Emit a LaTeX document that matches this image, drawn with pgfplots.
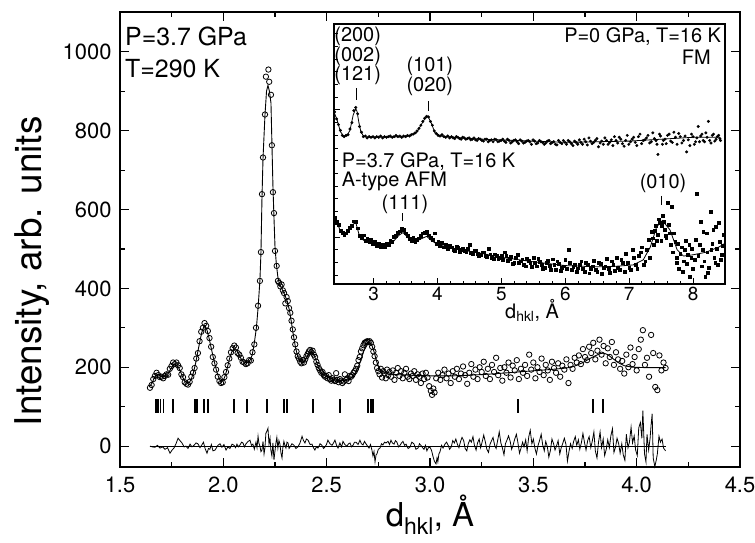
\documentclass[border=0pt]{standalone}
\usepackage{pgfplots}
\pgfplotsset{compat=1.18}
\usepackage{fontspec}
\setmainfont{TeX Gyre Heros}
\begin{document}
\begin{tikzpicture}
\useasboundingbox (0,0) rectangle (755bp,-543bp);
\begin{axis}[
  at={(120bp,-467bp)}, anchor=south west,
  scale only axis, width=620bp, height=455bp,
  xmin=1.5, xmax=4.5, ymin=-53, ymax=1101,
  xtick={1.5,2,2.5,3,3.5,4,4.5},
  ytick={0,200,400,600,800,1000},
  minor x tick num=1, minor y tick num=1,
  tick align=inside,
  major tick length=9bp, minor tick length=5bp,
  axis line style={line width=1.6bp},
  every tick/.style={black, line width=1.2bp},
  /pgf/number format/1000 sep={},
  /pgf/number format/assume math mode=true,
  ticklabel style={font=\fontsize{22}{26}\selectfont},
  xticklabel style={yshift=-6bp, /pgf/number format/fixed, /pgf/number format/fixed zerofill, /pgf/number format/precision=1},
  yticklabel style={xshift=-5bp},
  xlabel={d\textsubscript{hkl}, Å},
  ylabel={Intensity, arb. units},
  xlabel style={font=\fontsize{33}{38}\selectfont, at={(axis description cs:0.5,-0.104)}, anchor=center},
  ylabel style={font=\fontsize{37}{42}\selectfont, at={(axis description cs:-0.142,0.43)}, anchor=center},
  clip=false,
]
% observed
\addplot[only marks, mark=o, mark size=2.7bp, mark options={line width=0.8bp, black}] coordinates {
(1.645,148)(1.653,155)(1.661,170)(1.669,178)(1.677,186)(1.685,180)(1.693,175)(1.701,176)(1.709,172)(1.717,178)(1.725,182)(1.733,181)(1.741,196)(1.749,203)(1.757,212)(1.765,208)(1.773,212)(1.781,205)(1.789,198)(1.797,182)(1.805,175)(1.813,162)(1.821,158)(1.829,156)(1.837,163)(1.845,176)(1.853,186)(1.861,198)(1.869,222)(1.877,236)(1.885,266)(1.893,290)(1.901,300)(1.909,312)(1.917,305)(1.925,292)(1.933,274)(1.941,252)(1.949,226)(1.957,210)(1.965,194)(1.973,176)(1.981,165)(1.989,160)(1.997,162)(2.005,175)(2.013,188)(2.021,205)(2.029,222)(2.037,238)(2.045,248)(2.053,255)(2.061,250)(2.069,236)(2.077,232)(2.085,224)(2.093,214)(2.101,212)(2.109,208)(2.117,210)(2.125,218)(2.133,217)(2.141,238)(2.150,258)(2.158,300)(2.168,356)(2.177,419)(2.182,492)(2.187,639)(2.192,732)(2.2015,841)(2.206,937)(2.218,955)(2.222,924)(2.2305,891)(2.235,763)(2.240,644)(2.245,591)(2.250,495)(2.258,457)(2.264,419)(2.270,414)(2.276,405)(2.282,410)(2.288,395)(2.294,388)(2.300,362)(2.306,378)(2.312,368)(2.318,350)(2.324,338)(2.330,318)(2.336,296)(2.342,276)(2.348,258)(2.354,240)(2.360,228)(2.366,222)(2.372,214)(2.378,210)(2.384,218)(2.390,212)(2.396,220)(2.402,228)(2.408,234)(2.414,240)(2.420,244)(2.426,238)(2.432,242)(2.438,232)(2.444,226)(2.450,214)(2.456,206)(2.462,198)(2.468,192)(2.474,186)(2.480,188)(2.486,180)(2.492,176)(2.498,178)(2.504,172)(2.510,180)(2.516,170)(2.522,166)(2.528,172)(2.534,168)(2.540,165)(2.546,185)(2.552,168)(2.558,162)(2.564,170)(2.570,166)(2.576,160)(2.582,164)(2.588,182)(2.594,168)(2.600,172)(2.606,165)(2.612,178)(2.618,176)(2.624,180)(2.630,186)(2.636,190)(2.642,196)(2.648,204)(2.654,218)(2.660,226)(2.666,240)(2.672,248)(2.678,256)(2.684,262)(2.690,264)(2.696,266)(2.702,264)(2.708,266)(2.714,262)(2.720,252)(2.726,240)(2.732,228)(2.738,212)(2.744,198)(2.750,190)(2.756,182)(2.762,196)(2.768,174)(2.774,190)(2.780,184)(2.786,172)(2.792,194)(2.798,180)(2.804,188)(2.812,176)(2.820,192)(2.828,168)(2.836,186)(2.844,198)(2.852,178)(2.860,190)(2.868,172)(2.876,186)(2.884,196)(2.892,176)(2.900,170)(2.908,184)(2.916,178)(2.924,190)(2.932,168)(2.940,182)(2.948,176)(2.956,160)(2.964,184)(2.972,170)(2.980,186)(2.988,174)(2.996,152)(3.004,140)(3.010,130)(3.016,146)(3.022,136)(3.030,172)(3.040,186)(3.050,168)(3.060,180)(3.070,194)(3.080,172)(3.090,184)(3.100,160)(3.110,190)(3.120,176)(3.130,196)(3.140,170)(3.150,184)(3.160,202)(3.170,180)(3.180,158)(3.190,186)(3.200,208)(3.210,176)(3.220,194)(3.230,170)(3.240,200)(3.250,188)(3.260,214)(3.270,178)(3.280,196)(3.290,170)(3.300,206)(3.310,188)(3.320,224)(3.330,180)(3.340,198)(3.350,166)(3.360,200)(3.370,186)(3.380,212)(3.390,174)(3.400,204)(3.410,192)(3.420,218)(3.430,170)(3.440,196)(3.450,186)(3.460,206)(3.470,178)(3.480,232)(3.490,194)(3.500,212)(3.510,172)(3.520,200)(3.530,188)(3.540,222)(3.550,180)(3.560,206)(3.570,192)(3.580,168)(3.590,214)(3.600,198)(3.610,186)(3.620,210)(3.630,176)(3.640,204)(3.650,194)(3.660,220)(3.670,160)(3.680,206)(3.690,196)(3.700,224)(3.710,212)(3.720,230)(3.730,208)(3.740,246)(3.750,226)(3.760,218)(3.770,252)(3.780,236)(3.790,262)(3.800,220)(3.810,242)(3.820,270)(3.830,232)(3.840,254)(3.850,210)(3.860,248)(3.870,226)(3.880,264)(3.890,206)(3.900,238)(3.910,220)(3.920,196)(3.930,216)(3.940,184)(3.950,232)(3.960,200)(3.970,250)(3.980,208)(3.990,226)(4.000,192)(4.010,246)(4.020,270)(4.030,294)(4.040,206)(4.050,224)(4.060,176)(4.070,282)(4.080,236)(4.090,150)(4.100,142)(4.110,230)(4.120,192)(4.130,212)(4.140,198)
};
% calculated
\addplot[no marks, black, line width=0.9bp] coordinates {
(1.645,152)(1.655,160)(1.665,172)(1.675,180)(1.685,182)(1.695,178)(1.705,176)(1.715,177)(1.725,180)(1.735,186)(1.745,195)(1.755,203)(1.765,207)(1.775,205)(1.785,198)(1.795,186)(1.805,173)(1.815,164)(1.825,160)(1.835,161)(1.845,170)(1.855,186)(1.865,208)(1.875,235)(1.885,262)(1.895,287)(1.905,302)(1.912,305)(1.920,296)(1.930,276)(1.940,252)(1.950,228)(1.960,206)(1.970,186)(1.980,171)(1.990,164)(2.000,167)(2.010,180)(2.020,200)(2.030,222)(2.040,238)(2.050,246)(2.060,246)(2.070,238)(2.080,227)(2.090,218)(2.100,213)(2.110,212)(2.120,213)(2.130,218)(2.140,232)(2.150,262)(2.160,300)(2.168,350)(2.177,420)(2.182,490)(2.187,630)(2.192,730)(2.2015,840)(2.209,900)(2.216,915)(2.223,900)(2.2305,870)(2.235,770)(2.240,660)(2.245,580)(2.250,505)(2.256,465)(2.264,428)(2.270,414)(2.280,402)(2.290,392)(2.300,380)(2.310,366)(2.320,344)(2.330,312)(2.340,278)(2.350,248)(2.360,228)(2.370,216)(2.380,212)(2.390,214)(2.400,222)(2.410,232)(2.420,238)(2.430,238)(2.440,230)(2.450,215)(2.460,200)(2.470,190)(2.480,183)(2.500,176)(2.520,172)(2.540,168)(2.560,166)(2.580,166)(2.600,168)(2.620,174)(2.640,186)(2.660,210)(2.680,242)(2.700,260)(2.710,262)(2.720,254)(2.730,238)(2.740,218)(2.750,202)(2.760,193)(2.780,186)(2.800,183)(2.850,181)(2.900,180)(3.000,178)(3.100,178)(3.200,180)(3.300,183)(3.400,187)(3.500,191)(3.600,195)(3.660,198)(3.700,203)(3.740,212)(3.780,224)(3.820,234)(3.840,236)(3.860,232)(3.880,224)(3.910,212)(3.940,204)(3.980,200)(4.050,199)(4.140,199)
};
% reflection positions
\addplot[only marks, mark=|, mark size=7bp, mark options={line width=1.6bp, black}] coordinates {
(1.675,101)(1.685,101)(1.695,101)(1.710,101)(1.755,101)(1.863,101)(1.872,101)(1.906,101)(1.926,101)(2.052,101)(2.114,101)(2.211,101)(2.293,101)(2.308,101)(2.434,101)(2.564,101)(2.700,101)(2.714,101)(2.724,101)(3.425,101)(3.790,101)(3.837,101)
};
% zero line
\addplot[no marks, black, line width=0.9bp] coordinates {(1.645,0)(4.14,0)};
% difference
\addplot[no marks, black, line width=0.8bp] coordinates {
(1.645,0)(1.657,-2)(1.669,-3)(1.681,2)(1.694,-5)(1.706,-2)(1.718,-8)(1.730,-4)(1.742,-18)(1.752,-10)(1.761,-5)(1.771,6)(1.781,20)(1.790,14)(1.800,8)(1.810,-2)(1.819,0)(1.829,-6)(1.839,5)(1.848,-2)(1.858,2)(1.868,8)(1.877,6)(1.887,-4)(1.897,4)(1.904,10)(1.911,-5)(1.921,-18)(1.928,-6)(1.935,-8)(1.942,4)(1.950,-12)(1.960,-10)(1.967,-4)(1.974,2)(1.984,6)(1.993,-3)(2.003,4)(2.013,-10)(2.022,-2)(2.032,-6)(2.042,5)(2.052,2)(2.059,-4)(2.066,5)(2.073,-2)(2.081,3)(2.088,10)(2.095,8)(2.102,-2)(2.110,6)(2.120,12)(2.129,15)(2.136,2)(2.143,5)(2.150,-8)(2.158,10)(2.163,-4)(2.168,25)(2.172,8)(2.177,0)(2.182,-14)(2.187,-10)(2.192,12)(2.197,-20)(2.201,-6)(2.206,33)(2.211,38)(2.216,45)(2.221,5)(2.226,20)(2.230,-10)(2.235,-25)(2.240,8)(2.245,-35)(2.250,-12)(2.255,10)(2.259,22)(2.264,-5)(2.269,14)(2.274,5)(2.279,-18)(2.284,-30)(2.288,-4)(2.293,12)(2.298,2)(2.303,-5)(2.308,10)(2.313,8)(2.318,-6)(2.322,-3)(2.332,6)(2.342,2)(2.351,-6)(2.361,-2)(2.371,8)(2.381,25)(2.388,14)(2.395,8)(2.402,18)(2.410,15)(2.420,4)(2.429,5)(2.436,-4)(2.443,-10)(2.450,-2)(2.458,-5)(2.468,6)(2.477,2)(2.485,-6)(2.492,-2)(2.499,4)(2.506,15)(2.516,6)(2.526,2)(2.533,8)(2.540,15)(2.548,2)(2.555,-5)(2.564,8)(2.572,-2)(2.579,12)(2.588,4)(2.598,0)(2.606,6)(2.613,8)(2.620,-2)(2.627,2)(2.635,10)(2.642,10)(2.652,4)(2.661,15)(2.668,6)(2.676,3)(2.683,12)(2.690,6)(2.698,0)(2.705,-5)(2.712,4)(2.719,-10)(2.724,-25)(2.729,-14)(2.734,-40)(2.739,-22)(2.743,-20)(2.750,-8)(2.758,-5)(2.765,6)(2.772,3)(2.780,10)(2.787,8)(2.797,12)(2.804,4)(2.811,15)(2.818,8)(2.826,5)(2.833,14)(2.840,10)(2.848,-2)(2.855,2)(2.862,8)(2.869,12)(2.877,2)(2.884,5)(2.894,-6)(2.903,-3)(2.912,10)(2.922,6)(2.932,-8)(2.942,-5)(2.949,6)(2.956,2)(2.964,-4)(2.971,-8)(2.978,2)(2.985,-12)(2.992,-4)(3.000,-3)(3.007,-10)(3.014,-25)(3.021,-38)(3.029,-45)(3.034,-30)(3.038,-40)(3.043,-20)(3.048,-15)(3.056,2)(3.063,-5)(3.072,5)(3.080,10)(3.088,2)(3.095,-8)(3.103,-2)(3.110,14)(3.118,8)(3.125,18)(3.133,4)(3.140,-4)(3.148,12)(3.155,22)(3.163,14)(3.170,-6)(3.178,-12)(3.185,6)(3.193,16)(3.200,10)(3.208,24)(3.215,2)(3.223,-10)(3.230,8)(3.238,18)(3.245,-4)(3.253,12)(3.260,28)(3.268,10)(3.275,-8)(3.283,-16)(3.290,4)(3.298,14)(3.305,22)(3.313,2)(3.320,-6)(3.328,16)(3.335,36)(3.343,8)(3.350,-4)(3.358,-22)(3.365,6)(3.373,16)(3.380,26)(3.388,12)(3.395,-8)(3.403,4)(3.410,18)(3.418,30)(3.425,10)(3.433,-18)(3.440,-6)(3.448,10)(3.455,-2)(3.463,16)(3.470,-12)(3.478,24)(3.485,40)(3.493,6)(3.500,18)(3.508,-6)(3.515,-20)(3.523,2)(3.530,14)(3.538,30)(3.545,4)(3.553,-12)(3.560,12)(3.568,-2)(3.575,-28)(3.583,-10)(3.590,18)(3.598,6)(3.605,-10)(3.613,2)(3.620,14)(3.628,-20)(3.635,-4)(3.643,8)(3.650,20)(3.658,4)(3.665,-38)(3.673,-12)(3.680,6)(3.688,-6)(3.695,12)(3.703,24)(3.710,2)(3.718,16)(3.725,-8)(3.733,10)(3.740,32)(3.748,8)(3.755,-10)(3.763,14)(3.770,24)(3.778,-4)(3.785,12)(3.793,36)(3.800,-12)(3.808,-30)(3.815,8)(3.823,36)(3.830,-4)(3.838,18)(3.845,-24)(3.853,-8)(3.860,16)(3.868,-4)(3.875,26)(3.883,44)(3.890,-16)(3.898,-2)(3.905,20)(3.913,6)(3.920,-18)(3.928,6)(3.935,-22)(3.943,-36)(3.950,30)(3.958,-4)(3.965,10)(3.973,48)(3.980,8)(3.988,26)(3.995,-10)(4.003,-24)(4.010,46)(4.018,60)(4.025,20)(4.030,90)(4.038,-20)(4.045,-40)(4.050,30)(4.058,-10)(4.065,20)(4.070,55)(4.075,82)(4.080,-30)(4.088,-52)(4.095,-35)(4.100,-20)(4.108,25)(4.115,10)(4.123,18)(4.130,-5)(4.140,-12)
};
\node[anchor=west, inner sep=0pt, font=\fontsize{25}{30}\selectfont] at (axis cs:1.524,1038) {P=3.7 GPa};
\node[anchor=west, inner sep=0pt, font=\fontsize{25}{30}\selectfont] at (axis cs:1.524,957) {T=290 K};
\end{axis}

\begin{axis}[
  at={(334bp,-284bp)}, anchor=south west,
  scale only axis, width=391bp, height=260bp,
  xmin=2.38, xmax=8.5, ymin=-3.70, ymax=16.77,
  axis background/.style={fill=white},
  xtick={3,4,5,6,7,8}, minor x tick num=4,
  ytick={0,10}, yticklabels={}, minor ytick={-3,-2,...,16},
  tick pos=left, tick align=inside,
  major tick length=6bp, minor tick length=3.5bp,
  axis line style={line width=1.3bp},
  every tick/.style={black, line width=1bp},
  /pgf/number format/assume math mode=true,
  ticklabel style={font=\fontsize{19}{22}\selectfont},
  clip=false,
]
% upper: P=0, T=16 K
\addplot[only marks, mark=*, mark size=1.3bp, black] coordinates {
(2.39,9.85)(2.42,9.3)(2.45,8.85)(2.48,8.4)(2.51,8.0)(2.54,7.9)(2.57,8.0)(2.60,8.05)(2.63,8.5)(2.66,9.0)(2.69,9.95)(2.72,10.2)(2.75,9.7)(2.78,8.7)(2.81,8.25)(2.84,7.9)(2.87,7.95)(2.90,7.8)(2.93,7.9)(2.96,7.85)(2.99,7.9)(3.02,7.8)(3.05,7.9)(3.08,7.85)(3.11,7.95)(3.14,7.8)(3.17,7.9)(3.20,7.85)(3.23,7.9)(3.26,7.95)(3.29,7.85)(3.32,7.9)(3.35,8.0)(3.38,7.9)(3.41,7.95)(3.44,7.85)(3.47,7.95)(3.50,7.9)(3.53,8.0)(3.56,7.95)(3.59,8.05)(3.62,8.1)(3.65,8.2)(3.68,8.35)(3.71,8.55)(3.74,8.8)(3.77,9.1)(3.80,9.35)(3.83,9.5)(3.86,9.45)(3.89,9.1)(3.92,8.8)(3.95,8.35)(3.98,8.15)(4.01,8.0)(4.04,7.95)(4.07,8.05)(4.10,7.9)(4.13,7.85)(4.16,7.95)(4.19,7.8)(4.22,7.9)(4.27,7.75)(4.32,7.85)(4.37,7.7)(4.42,7.8)(4.47,7.75)(4.52,7.65)(4.57,7.8)(4.62,7.6)(4.67,7.7)(4.72,7.55)(4.77,7.7)(4.82,7.6)(4.87,7.5)(4.92,7.65)(4.97,7.55)(5.02,7.7)(5.07,7.45)(5.12,7.6)(5.17,7.5)(5.22,7.65)(5.27,7.35)(5.32,7.55)(5.37,7.45)(5.42,7.6)(5.47,7.3)(5.52,7.55)(5.57,7.4)(5.62,7.5)(5.67,7.3)(5.72,7.55)(5.77,7.35)(5.82,7.5)(5.87,7.25)(5.92,7.45)(5.97,7.6)(6.02,7.3)(6.07,7.5)(6.12,7.2)(6.17,7.45)(6.22,7.65)(6.27,7.3)(6.32,7.5)(6.37,7.8)(6.42,7.35)(6.47,7.6)(6.52,7.1)(6.57,7.55)(6.62,7.8)(6.67,7.3)(6.72,7.65)(6.77,7.9)(6.82,7.4)(6.87,7.7)(6.92,7.15)(6.97,8.0)(7.02,7.5)(7.07,7.85)(7.12,7.2)(7.17,8.1)(7.22,7.6)(7.27,7.8)(7.32,7.4)(7.37,8.2)(7.42,7.6)(7.45,6.5)(7.49,7.95)(7.52,7.3)(7.56,7.7)(7.60,8.0)(7.65,7.55)(7.70,8.25)(7.75,7.3)(7.80,7.9)(7.85,7.6)(7.90,6.7)(7.95,7.2)(8.00,7.9)(8.04,7.5)(8.08,8.7)(8.12,7.95)(8.16,7.6)(8.20,8.2)(8.24,9.1)(8.28,7.4)(8.32,8.1)(8.36,7.7)(8.40,8.0)(8.43,7.6)
(4.245,7.8)(4.295,7.9)(4.345,7.75)(4.395,7.85)(4.445,7.7)(4.495,7.8)(4.545,7.7)(4.595,7.65)(4.645,7.75)(4.695,7.6)(4.745,7.7)(4.795,7.5)(4.845,7.65)(4.895,7.7)(4.945,7.5)(4.995,7.6)(5.045,7.55)(5.095,7.7)(5.145,7.4)(5.195,7.6)(5.245,7.5)(5.295,7.65)(5.345,7.4)(5.395,7.55)(5.445,7.5)(5.495,7.65)(5.545,7.35)(5.595,7.6)(5.645,7.45)(5.695,7.4)(5.745,7.6)(5.795,7.45)(5.845,7.3)(5.895,7.6)(5.945,7.35)(5.995,7.45)(6.045,7.6)(6.095,7.35)(6.145,7.55)(6.195,7.3)(6.245,7.45)(6.295,7.7)(6.345,7.25)(6.395,7.55)(6.445,7.45)(6.495,7.75)(6.545,7.4)(6.595,7.3)(6.645,7.6)(6.695,7.45)(6.745,7.2)(6.795,7.6)(6.845,7.85)(6.895,7.35)(6.945,7.6)(6.995,7.3)(7.045,7.7)(7.095,7.45)(7.145,7.9)(7.195,7.35)(7.245,7.65)(7.295,8.0)(7.345,7.5)(7.395,7.75)(7.435,7.3)(7.475,8.1)(7.535,7.6)(7.58,7.35)(7.625,8.1)(7.675,7.45)(7.725,7.85)(7.775,8.15)(7.825,7.4)(7.875,7.95)(7.925,7.65)(7.975,8.1)(8.02,7.3)(8.06,7.8)(8.10,7.5)(8.14,8.1)(8.18,7.5)(8.22,7.85)(8.26,7.6)(8.30,8.0)(8.34,7.55)(8.38,7.9)(8.42,7.75)
};
\addplot[no marks, black, line width=0.8bp] coordinates {
(2.38,9.84)(2.43,9.2)(2.48,8.3)(2.53,7.95)(2.58,7.95)(2.63,8.4)(2.68,9.6)(2.72,10.1)(2.74,9.9)(2.77,9.0)(2.80,8.3)(2.84,7.95)(2.90,7.87)(3.20,7.87)(3.50,7.9)(3.60,8.05)(3.67,8.2)(3.74,8.8)(3.80,9.3)(3.85,9.5)(3.90,9.0)(3.96,8.2)(4.05,7.95)(4.50,7.75)(5.00,7.64)(6.00,7.45)(7.00,7.55)(8.00,7.85)(8.42,7.85)
};
% lower: P=3.7 GPa, T=16 K
\addplot[only marks, mark=square*, mark size=1.4bp, black] coordinates {
(2.39,1.55)(2.42,1.2)(2.45,0.95)(2.48,0.5)(2.51,0.35)(2.54,0.15)(2.57,0.3)(2.60,0.5)(2.63,0.75)(2.66,0.9)(2.69,1.25)(2.72,1.2)(2.75,0.7)(2.78,0.1)(2.81,-0.05)(2.84,0.15)(2.87,-0.3)(2.90,-0.1)(2.93,-0.35)(2.96,-0.2)(2.99,-0.55)(3.02,-0.4)(3.05,-0.7)(3.08,-0.5)(3.11,-0.8)(3.14,-0.6)(3.17,-0.75)(3.20,-0.55)(3.23,-0.6)(3.26,-0.3)(3.29,-0.35)(3.32,0.0)(3.35,0.1)(3.38,0.35)(3.41,0.45)(3.44,0.65)(3.47,0.55)(3.50,0.3)(3.53,0.1)(3.56,-0.15)(3.59,-0.3)(3.62,-0.05)(3.65,-0.35)(3.68,-0.2)(3.71,-0.1)(3.74,0.1)(3.77,0.3)(3.80,0.35)(3.83,0.4)(3.86,0.15)(3.89,-0.05)(3.92,-0.2)(3.95,0.3)(3.98,-0.5)(4.01,-0.35)(4.04,-0.7)(4.07,-0.45)(4.10,-0.8)(4.13,-0.6)(4.16,-0.9)(4.19,-0.7)(4.25,-1.0)(4.30,-0.75)(4.35,-1.15)(4.40,-0.9)(4.45,-1.2)(4.50,-0.6)(4.55,-1.3)(4.60,-1.05)(4.65,-1.45)(4.70,-1.2)(4.75,-1.5)(4.80,-0.9)(4.85,-1.6)(4.90,-1.35)(4.95,-1.75)(5.00,-1.5)(5.05,-1.2)(5.10,-1.85)(5.15,-1.55)(5.20,-2.0)(5.25,-1.4)(5.30,-1.9)(5.35,-2.2)(5.40,-1.7)(5.45,-2.05)(5.50,-1.6)(5.55,-2.3)(5.60,-1.95)(5.65,-2.5)(5.70,-2.0)(5.75,-2.25)(5.80,-1.75)(5.85,-2.55)(5.90,-2.1)(5.95,-2.4)(6.00,-1.8)(6.05,-1.0)(6.10,-2.6)(6.15,-2.15)(6.20,-2.45)(6.25,-1.9)(6.30,-2.7)(6.35,-2.2)(6.40,-2.5)(6.45,-1.85)(6.50,-2.75)(6.55,-2.1)(6.60,-2.4)(6.65,-1.7)(6.70,-2.8)(6.75,-2.2)(6.80,-1.6)(6.85,-2.6)(6.90,-2.05)(6.95,-1.3)(7.00,-2.4)(7.05,-1.0)(7.10,-2.2)(7.15,-1.5)(7.20,-0.8)(7.25,-1.9)(7.30,-0.2)(7.35,0.4)(7.38,-0.6)(7.42,0.9)(7.45,0.2)(7.48,1.1)(7.50,-0.3)(7.53,1.7)(7.56,0.6)(7.58,-0.1)(7.60,2.7)(7.63,0.3)(7.66,2.4)(7.68,-1.2)(7.72,-0.4)(7.75,-1.6)(7.78,-2.5)(7.82,-0.8)(7.85,-1.9)(7.88,-0.3)(7.92,-1.4)(7.95,-3.1)(7.98,-0.9)(8.02,-1.8)(8.06,3.4)(8.10,-0.6)(8.13,-2.3)(8.16,0.4)(8.19,-3.1)(8.22,-1.2)(8.25,-2.4)(8.27,2.0)(8.30,-0.5)(8.33,-1.6)(8.36,0.8)(8.39,-2.2)(8.42,-0.4)(8.45,-1.4)(8.48,0.2)
(4.225,-0.8)(4.275,-1.05)(4.325,-0.85)(4.375,-1.0)(4.425,-1.1)(4.475,-0.95)(4.525,-1.25)(4.575,-1.1)(4.625,-1.3)(4.675,-1.4)(4.725,-1.2)(4.775,-1.55)(4.825,-1.35)(4.875,-1.7)(4.925,-1.45)(4.975,-1.6)(5.025,-1.8)(5.075,-1.5)(5.125,-1.7)(5.175,-2.1)(5.225,-1.65)(5.275,-2.05)(5.325,-1.75)(5.375,-2.3)(5.425,-1.85)(5.475,-2.35)(5.525,-2.0)(5.575,-1.7)(5.625,-2.2)(5.675,-2.4)(5.725,-1.85)(5.775,-2.6)(5.825,-2.2)(5.875,-1.9)(5.925,-2.65)(5.975,-2.3)(6.025,-2.5)(6.075,-2.0)(6.125,-2.35)(6.175,-2.75)(6.225,-2.2)(6.275,-2.5)(6.325,-2.0)(6.375,-2.85)(6.425,-2.3)(6.475,-2.55)(6.525,-2.05)(6.575,-2.9)(6.625,-2.3)(6.675,-2.5)(6.725,-1.9)(6.775,-2.65)(6.825,-2.4)(6.875,-1.8)(6.925,-2.7)(6.975,-2.0)(7.025,-2.6)(7.075,-1.6)(7.125,-2.5)(7.175,-1.2)(7.225,-2.2)(7.275,-1.0)(7.325,-1.6)(7.365,-0.1)(7.40,0.5)(7.435,-0.3)(7.465,1.4)(7.515,0.9)(7.545,1.2)(7.57,0.1)(7.615,1.0)(7.645,-0.6)(7.695,0.3)(7.74,-2.0)(7.765,-0.5)(7.80,-1.3)(7.835,-2.7)(7.87,-1.0)(7.905,-2.1)(7.94,-0.6)(7.97,-1.6)(8.00,-2.5)(8.04,-0.2)(8.08,-1.5)(8.115,1.2)(8.145,-1.0)(8.175,-1.9)(8.21,0.3)(8.235,-2.8)(8.285,-1.0)(8.315,0.6)(8.345,-2.0)(8.375,-0.9)(8.405,1.1)(8.435,-1.8)(8.465,-0.7)
};
\addplot[no marks, black, line width=0.8bp] coordinates {
(2.38,1.5)(2.42,1.2)(2.47,0.6)(2.52,0.2)(2.56,0.2)(2.62,0.55)(2.68,1.0)(2.72,1.15)(2.75,0.6)(2.78,0.05)(2.84,-0.25)(2.90,-0.35)(3.00,-0.5)(3.10,-0.65)(3.20,-0.75)(3.30,-0.4)(3.40,0.15)(3.46,0.35)(3.52,0.05)(3.58,-0.3)(3.66,-0.35)(3.74,-0.15)(3.83,0.05)(3.90,-0.25)(4.00,-0.6)(4.30,-0.95)(4.70,-1.3)(5.00,-1.6)(5.50,-1.95)(6.00,-2.25)(6.50,-2.35)(6.80,-2.3)(7.06,-2.2)(7.22,-1.8)(7.33,-0.8)(7.43,0.8)(7.52,1.3)(7.64,0.55)(7.75,-1.0)(7.85,-1.5)(8.00,-1.4)(8.20,-1.2)(8.40,-0.8)(8.50,-0.5)
};
% annotations
\begin{scope}[font=\fontsize{20}{18.5}\selectfont]
\node[align=center, inner sep=0pt] at (axis cs:2.75,14.25) {(200)\\(002)\\(121)};
\draw[line width=0.8bp] (axis cs:2.73,11.73) -- (axis cs:2.73,10.79);
\node[align=center, inner sep=0pt] at (axis cs:3.88,12.64) {(101)\\(020)};
\draw[line width=0.8bp] (axis cs:3.86,10.7) -- (axis cs:3.86,9.92);
\node[anchor=east, inner sep=0pt] at (axis cs:8.44,15.75) {P=0 GPa, T=16 K};
\node[anchor=east, inner sep=0pt] at (axis cs:8.28,14.17) {FM};
\node[anchor=west, inner sep=0pt] at (axis cs:2.50,5.93) {P=3.7 GPa, T=16 K};
\node[anchor=west, inner sep=0pt] at (axis cs:2.50,4.36) {A-type AFM};
\node[inner sep=0pt] at (axis cs:3.49,2.58) {(111)};
\draw[line width=0.8bp] (axis cs:3.45,1.89) -- (axis cs:3.45,1.26);
\node[inner sep=0pt] at (axis cs:7.53,4.25) {(010)};
\draw[line width=0.8bp] (axis cs:7.51,3.23) -- (axis cs:7.51,2.52);
\node[anchor=base, inner sep=0pt] at (axis cs:5.48,-6.38) {d\textsubscript{hkl}, Å};
\end{scope}
\end{axis}
\end{tikzpicture}
\end{document}
